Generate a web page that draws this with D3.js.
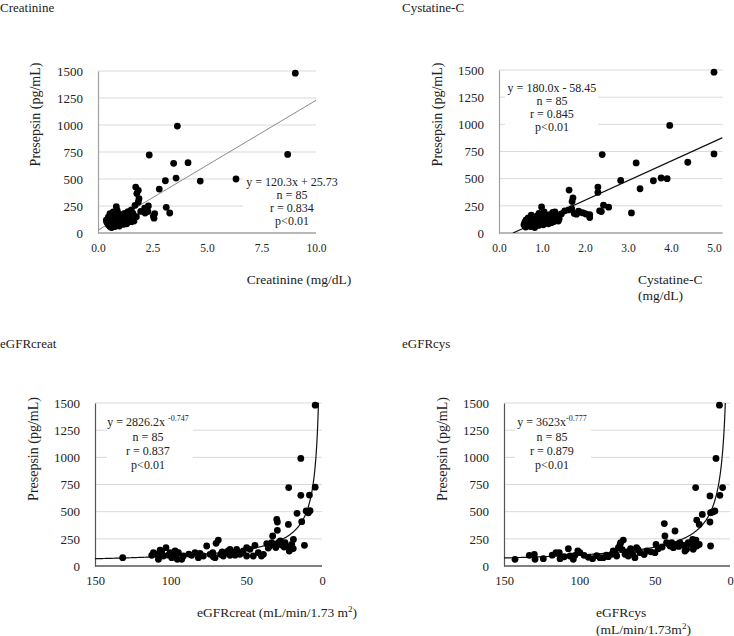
<!DOCTYPE html>
<html><head><meta charset="utf-8">
<script src="https://cdn.jsdelivr.net/npm/d3@7"></script>
<style>
body{margin:0;background:#fff}
text{font-family:"Liberation Serif","Times New Roman",serif;fill:#222}
</style>
</head><body>
<svg id="c" width="734" height="636"></svg>
<script>
// ---------- DATA ----------
const yTicks = [0, 250, 500, 750, 1000, 1250, 1500];
const creatTicks = [0, 2.5, 5, 7.5, 10];
const cysTicks = [0, 1, 2, 3, 4, 5];
const egfrTicks = [150, 100, 50, 0];

// Creatinine (mg/dL) vs Presepsin (pg/mL)
const creatData = [
 [9.05,1480],[3.64,990],[8.70,728],[2.35,722],[3.47,645],[4.13,651],[3.09,484],[3.58,509],[4.69,481],[6.33,500],
 [2.81,407],[1.73,425],[1.85,395],[1.78,365],[1.88,318],[1.85,287],[3.13,238],[3.29,185],[2.31,250],[2.54,157],
 [2.57,137],[1.70,256],[2.16,185],[2.29,198],[2.60,180],[1.53,213],[1.60,182],[1.38,198],[1.22,182],[1.07,167],
 [0.84,244],[2.14,229],[1.53,105],[1.76,151],[1.96,200],[1.45,140],
 [0.38,120],[0.42,95],[0.45,130],[0.48,75],[0.50,110],[0.52,145],[0.55,60],[0.57,90],[0.60,125],[0.62,50],
 [0.65,165],[0.67,100],[0.70,70],[0.72,135],[0.75,115],[0.77,85],[0.80,155],[0.82,105],[0.85,130],[0.87,75],
 [0.90,145],[0.92,95],[0.95,120],[0.97,175],[1.00,85],[1.02,140],[1.05,110],[1.08,160],[1.10,90],[1.13,125],
 [1.16,150],[1.20,100],[1.25,175],[1.28,120],[1.32,85],[1.36,190],[1.40,155],[1.45,130],[1.50,200],[0.55,180],
 [0.70,195],[0.78,60],[0.88,210],[0.48,150],[0.62,55],[0.98,65],[1.18,80],[0.40,105],[1.65,110]
];

// Cystatin-C (mg/dL) vs Presepsin
const cysData = [
 [5.0,1480],[3.97,990],[5.0,728],[2.40,722],[3.19,645],[4.39,651],[2.83,484],[3.77,506],[3.91,500],[3.59,481],
 [3.28,407],[1.63,395],[2.30,423],[2.30,373],[1.72,324],[1.70,290],[3.08,185],[2.43,256],[2.55,238],[2.34,204],
 [2.38,198],[2.11,142],[2.11,170],[1.96,185],[1.85,200],[1.53,204],[1.69,225],[1.80,173],[1.30,194],[0.99,240],
 [1.25,190],[1.62,212],[1.75,180],[1.90,190],[2.02,175],
 [0.58,75],[0.60,100],[0.62,55],[0.63,120],[0.65,90],[0.67,70],[0.68,140],[0.70,105],[0.72,85],[0.73,60],
 [0.75,165],[0.77,115],[0.78,95],[0.80,75],[0.82,130],[0.83,50],[0.85,105],[0.87,150],[0.88,85],[0.90,120],
 [0.92,70],[0.93,180],[0.95,100],[0.97,135],[0.98,90],[1.00,155],[1.02,110],[1.03,75],[1.05,195],[1.07,125],
 [1.08,95],[1.10,160],[1.12,140],[1.13,105],[1.15,85],[1.17,130],[1.18,170],[1.20,115],[1.22,95],[1.24,150],
 [1.26,125],[1.28,105],[1.30,140],[1.33,120],[1.35,160],[1.38,110],[1.40,130],[0.70,125],[0.90,160],[1.45,175]
];

// eGFRcreat vs Presepsin
const egfrCreatData = [
 [4.5,1480],[14,990],[4.5,725],[22,722],[14,650],[8.3,653],[16.5,485],[10.5,506],[7.9,509],[9.0,490],
 [13.4,408],[29.9,429],[29.5,405],[22.2,383],[29.5,328],[18.9,245],[11.6,190],
 [36.5,205],[33.2,215],[31.0,199],[28.8,215],[26.6,193],[24.4,215],[22.9,178],[21.6,138],[20.0,199],[32.6,276],
 [38.7,107],[44.3,190],[47.6,153],[49.8,169],[53.1,123],[56.4,153],[58.1,123],[60.8,98],[63.0,123],[65.2,92],
 [67.0,107],[68.5,239],[70.0,209],[71.8,86],[72.2,123],[76.2,184],[78.4,92],[81.7,77],[83.9,123],[91.6,92],
 [92.7,61],[94.9,123],[96.5,98],[99.3,77],[100.4,123],[103.1,169],[104.8,92],[108.1,61],[109.2,107],[111.4,123],
 [112.5,98],[131.7,77],
 [60.8,153],[54.2,107],[42.1,123],[40.0,92],[49.8,92],[45.4,92],[74.0,107],[80.6,117],[86.1,98],[97.1,138],
 [95.6,61],[105.9,129],[70.7,77],
 [34.5,185],[27.5,230],[25.0,175],[30.5,170],[35.5,165],[19.0,160],[62.0,140],[66.0,130],[57.5,100],[52.0,140],
 [88.0,110],[101.5,100],[107.0,145]
];

// eGFRcys vs Presepsin
const egfrCysData = [
 [7,1480],[9.3,990],[4.9,722],[22.8,722],[13.3,645],[6.7,650],[18.4,475],[12.9,490],[10.0,506],[11.5,497],
 [13.3,405],[22.1,423],[20.4,383],[43.6,390],[36.5,322],[43.2,276],[38.7,215],[12.9,184],
 [42.1,215],[39.8,184],[37.6,169],[35.4,199],[33.2,215],[30.5,190],[28.8,153],[27.7,215],[24.8,245],[23.3,209],
 [22.1,184],[20.4,199],[24.4,153],[29.9,138],[22.6,239],
 [142.7,61],[133.2,98],[129.9,107],[129.4,61],[123.9,67],[115.5,123],[113.3,123],[112.8,67],[107.3,159],[106.2,92],
 [104.0,61],[102.9,98],[99.6,123],[96.9,98],[91.2,67],[86.3,77],[84.1,77],[80.8,86],[78.6,107],[76.3,123],
 [74.1,169],[72.6,215],[70.8,239],[69.7,107],[67.5,92],[66.0,159],[62.0,169],[63.1,77],[59.7,123],[55.3,138],
 [49.8,123],[47.6,159],[49.1,199],[75.2,92],
 [118.0,100],[110.0,85],[101.0,140],[94.0,80],[88.5,95],[82.0,100],[77.5,140],[73.0,195],[71.5,150],[68.5,130],
 [64.5,110],[61.0,150],[57.0,105],[52.5,130],[45.0,175],[40.5,200],[34.0,180],[26.0,200]
];

// Regression coefficients from the figure
const linCreat = [120.3, 25.73];
const linCys = [180.0, -58.45];
const powCreat = [2826.2, -0.747];
const powCys = [3623, -0.777];

// ---------- DRAW ----------
const svg = d3.select('#c');

function panel(cfg) {
  const g = svg.append('g');
  const x = d3.scaleLinear().domain(cfg.xDomain).range([cfg.left, cfg.right]);
  const y = d3.scaleLinear().domain([0, 1500]).range([cfg.bottom, cfg.top]);

  g.selectAll('line.grid').data(yTicks.filter(d => d > 0)).join('line')
    .attr('x1', cfg.left).attr('x2', cfg.gridRight || cfg.right)
    .attr('y1', d => y(d)).attr('y2', d => y(d))
    .attr('stroke', '#d9d9d9').attr('stroke-width', 1);

  g.append('rect').attr('x', cfg.box[0]).attr('y', cfg.box[1])
    .attr('width', cfg.box[2]).attr('height', cfg.box[3]).attr('fill', '#fff');

  const ya = g.append('g').attr('transform', `translate(${cfg.left},0)`)
    .call(d3.axisLeft(y).tickValues(yTicks).tickSize(0).tickSizeOuter(0).tickPadding(15).tickFormat(d3.format('d')));
  ya.select('.domain').attr('stroke', cfg.axisColor).attr('stroke-width', 1.2);
  ya.selectAll('text').attr('font-size', 13).attr('fill', '#222')
    .attr('font-family', '"Liberation Serif","Times New Roman",serif');

  const xa = g.append('g').attr('transform', `translate(0,${cfg.bottom})`)
    .call(d3.axisBottom(x).tickValues(cfg.xTicks).tickSize(0).tickSizeOuter(0).tickPadding(cfg.xPad).tickFormat(cfg.fmt));
  xa.select('.domain').attr('stroke', cfg.axisColor).attr('stroke-width', 1.5)
    .attr('d', `M${cfg.left},0H${cfg.gridRight || cfg.right}`);
  xa.selectAll('text').attr('font-size', cfg.xFont).attr('fill', '#222')
    .attr('font-family', '"Liberation Serif","Times New Roman",serif');

  const clipId = 'clip' + cfg.id;
  svg.append('clipPath').attr('id', clipId).append('rect')
    .attr('x', cfg.left).attr('y', cfg.top - 2).attr('width', (cfg.gridRight || cfg.right) - cfg.left).attr('height', cfg.bottom - cfg.top + 2);
  const line = d3.line().x(d => x(d[0])).y(d => y(d[1]));
  g.append('path').attr('d', line(cfg.fit)).attr('fill', 'none')
    .attr('stroke', cfg.fitColor).attr('stroke-width', cfg.fitWidth)
    .attr('clip-path', `url(#${clipId})`);

  g.selectAll('circle').data(cfg.data).join('circle')
    .attr('cx', d => x(d[0])).attr('cy', d => y(d[1])).attr('r', 3.4).attr('fill', '#000');

  cfg.ann.forEach((l, i) => {
    const t = g.append('text').attr('x', cfg.annX).attr('y', cfg.annY[i])
      .attr('text-anchor', 'middle').attr('font-size', 12).attr('fill', '#333');
    t.append('tspan').text(l[0]);
    if (l[1]) t.append('tspan').attr('font-size', 8).attr('dy', -5).text(l[1]);
  });

  g.append('text').attr('x', cfg.title[1]).attr('y', cfg.title[2]).attr('font-size', 13).text(cfg.title[0]);

  g.append('text').attr('transform', `translate(${cfg.yTitle[0]},${cfg.yTitle[1]}) rotate(-90)`)
    .attr('text-anchor', 'middle').attr('dy', '0.35em').attr('font-size', 14).text('Presepsin (pg/mL)');

  cfg.xTitle.forEach(l => {
    const t = g.append('text').attr('x', l.x).attr('y', l.y).attr('text-anchor', l.anchor).attr('font-size', 13.5);
    t.append('tspan').text(l.t);
    if (l.sup) {
      t.append('tspan').attr('font-size', 9).attr('dy', -5).text(l.sup);
      t.append('tspan').attr('dy', 5).text(l.after);
    }
  });
}

const f1 = d3.format('.1f');

panel({
  id: 1, data: creatData, xDomain: [0, 10], xTicks: creatTicks, fmt: f1, xFont: 11.5, xPad: 11,
  left: 98, right: 316, top: 71, bottom: 233, axisColor: '#a0a0a0',
  fit: [[0, linCreat[1]], [10, linCreat[0] * 10 + linCreat[1]]], fitColor: '#8a8a8a', fitWidth: 1,
  box: [243, 171, 97, 58],
  ann: [['y = 120.3x + 25.73'], ['n = 85'], ['r = 0.834'], ['p<0.01']], annX: 292, annY: [186, 199, 212, 225],
  title: ['Creatinine', 0, 12], yTitle: [35, 114.5],
  xTitle: [{t: 'Creatinine (mg/dL)', x: 299, y: 284, anchor: 'middle'}]
});

panel({
  id: 2, data: cysData, xDomain: [0, 5.2], xTicks: cysTicks, fmt: f1, xFont: 11.5, xPad: 11,
  left: 499, right: 722.6, top: 70, bottom: 233, axisColor: '#a0a0a0',
  fit: [[-linCys[1] / linCys[0], 0], [5.2, linCys[0] * 5.2 + linCys[1]]], fitColor: '#111', fitWidth: 1.2,
  box: [505, 78, 93, 58],
  ann: [['y = 180.0x - 58.45'], ['n = 85'], ['r = 0.845'], ['p<0.01']], annX: 552, annY: [92, 105, 118, 131],
  title: ['Cystatine-C', 402, 12], yTitle: [437, 114.5],
  xTitle: [{t: 'Cystatine-C', x: 638, y: 284, anchor: 'start'}, {t: '(mg/dL)', x: 638, y: 300, anchor: 'start'}]
});

const xs3 = d3.range(150, 2.3, -0.25).concat([2.33]);
panel({
  id: 3, data: egfrCreatData, xDomain: [150, 0], xTicks: egfrTicks, fmt: d3.format('d'), xFont: 12.5, xPad: 10,
  left: 95, right: 322, top: 403, bottom: 566, axisColor: '#555',
  fit: xs3.map(v => [v, powCreat[0] * Math.pow(v, powCreat[1])]), fitColor: '#111', fitWidth: 1.2,
  box: [107, 409, 86, 63],
  ann: [['y = 2826.2x ', '-0.747'], ['n = 85'], ['r = 0.837'], ['p<0.01']], annX: 148, annY: [426, 441, 455, 469],
  title: ['eGFRcreat', 0, 348], yTitle: [33, 449],
  xTitle: [{t: 'eGFRcreat (mL/min/1.73 m', x: 277, y: 617, anchor: 'middle', sup: '2', after: ')'}]
});

const xs4 = d3.range(150, 3.1, -0.25).concat([3.11]);
panel({
  id: 4, data: egfrCysData, xDomain: [150, 0], xTicks: egfrTicks, fmt: d3.format('d'), xFont: 12.5, xPad: 10,
  left: 504, right: 730, top: 403, bottom: 566, axisColor: '#555',
  fit: xs4.map(v => [v, powCys[0] * Math.pow(v, powCys[1])]), fitColor: '#111', fitWidth: 1.2,
  box: [515, 409, 76, 63],
  ann: [['y = 3623x', '-0.777'], ['n = 85'], ['r = 0.879'], ['p<0.01']], annX: 552, annY: [426, 441, 455, 469],
  title: ['eGFRcys', 402, 348], yTitle: [442, 449],
  xTitle: [{t: 'eGFRcys', x: 596, y: 617, anchor: 'start'}, {t: '(mL/min/1.73m', x: 596, y: 634, anchor: 'start', sup: '2', after: ')'}]
});
</script>
</body></html>
